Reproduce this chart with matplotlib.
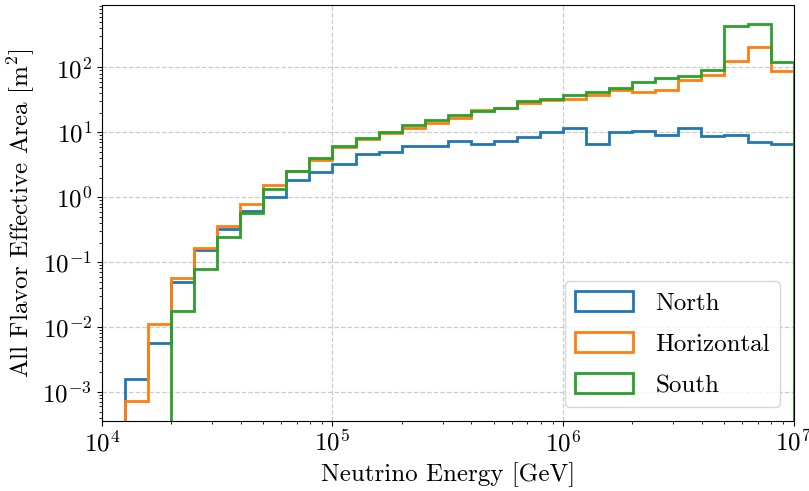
import numpy as np
import matplotlib
matplotlib.use("Agg")
import matplotlib.pyplot as plt

plt.rcParams['font.family'] = 'serif'
plt.rcParams['font.serif'] = ['cmr10', 'DejaVu Serif']
plt.rcParams['mathtext.fontset'] = 'cm'
plt.rcParams['axes.formatter.use_mathtext'] = True
plt.rcParams['axes.unicode_minus'] = False

# 10 bins per decade between 1e4 and 1e7 GeV
bin_edges = np.logspace(4, 7, 31)

# all flavor effective area [m^2] per bin
north = [0, 1.6e-3, 5.7e-3, 0.050, 0.153, 0.325, 0.62, 1.0, 1.83, 2.45,
         3.3, 4.6, 5.0, 6.2, 6.2, 7.4, 6.7, 7.4, 8.5, 10.0,
         11.5, 6.7, 10.0, 10.4, 9.2, 11.5, 8.8, 9.2, 7.0, 6.6]
horizontal = [0, 7.2e-4, 1.1e-2, 0.057, 0.168, 0.355, 0.78, 1.55, 2.54, 3.7,
              5.9, 8.0, 9.8, 11.8, 14.1, 16.8, 21.9, 24.0, 28.6, 31.0,
              32.5, 38.0, 45.0, 41.7, 45.0, 63.0, 77.0, 128.0, 210.0, 88.0]
south = [0, 0, 0, 0.018, 0.079, 0.245, 0.58, 1.36, 2.5, 4.1,
         6.2, 8.1, 10.1, 12.8, 15.5, 18.2, 21.7, 24.0, 30.0, 32.5,
         37.0, 42.6, 48.7, 58.8, 70.0, 73.0, 93.0, 431.0, 470.0, 122.0]

labels = ['North', 'Horizontal', 'South']
colors = ['#1f77b4', '#ff7f0e', '#2ca02c']

# bin centres (geometric) so every weight lands in its own bin
centers = np.sqrt(bin_edges[:-1] * bin_edges[1:])

fig = plt.figure(figsize=(8.09, 4.91), dpi=100)
ax = fig.add_axes([0.126, 0.143, 0.855, 0.847])

for vals, lab, col in zip([north, horizontal, south], labels, colors):
    ax.hist(centers, bins=bin_edges, weights=vals, histtype='step',
            color=col, lw=2, label=lab)

ax.set_xscale('log')
ax.set_yscale('log')
ax.set_xlim(1e4, 1e7)
ax.set_ylim(3.6e-4, 9.2e2)

ax.grid(True, which='major', ls='--', color='#cccccc', lw=0.9)
ax.set_axisbelow(True)
ax.tick_params(labelsize=18)

ax.set_xlabel('Neutrino Energy [GeV]', fontsize=18)
ax.set_ylabel('All Flavor Effective Area [m$^2$]', fontsize=18)

ax.legend(loc='lower right', fontsize=18, handlelength=2.3, handleheight=0.85,
          handletextpad=0.9, labelspacing=0.7, borderaxespad=0.55)

fig.savefig('out.png', dpi=100)
